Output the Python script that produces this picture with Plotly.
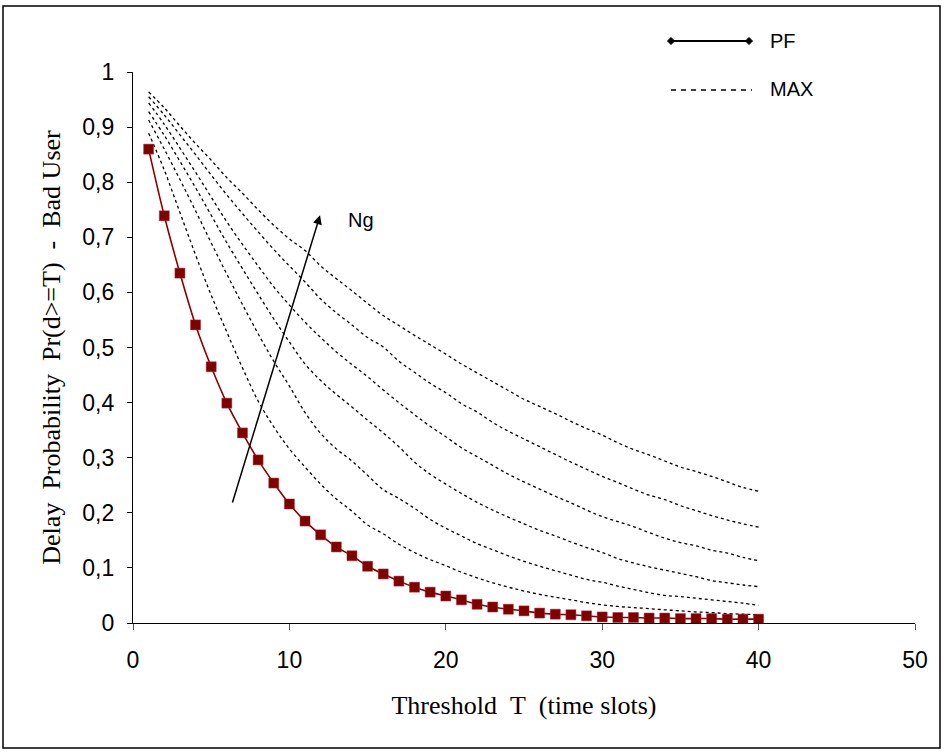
import plotly.graph_objects as go

T = list(range(1, 41))

pf = [0.860, 0.739, 0.635, 0.541, 0.465, 0.399, 0.345, 0.296, 0.254, 0.216,
      0.185, 0.160, 0.138, 0.122, 0.103, 0.089, 0.076, 0.065, 0.056, 0.049,
      0.042, 0.034, 0.029, 0.025, 0.022, 0.018, 0.016, 0.015, 0.013, 0.011,
      0.010, 0.010, 0.009, 0.009, 0.008, 0.008, 0.008, 0.007, 0.007, 0.007]

max1 = [0.964, 0.935, 0.902, 0.870, 0.840, 0.808, 0.780, 0.750, 0.722, 0.697,
        0.676, 0.648, 0.625, 0.603, 0.580, 0.558, 0.540, 0.522, 0.505, 0.488,
        0.470, 0.454, 0.438, 0.422, 0.406, 0.393, 0.380, 0.366, 0.353, 0.341,
        0.327, 0.315, 0.305, 0.294, 0.283, 0.275, 0.266, 0.256, 0.246, 0.239]
max2 = [0.955, 0.922, 0.886, 0.850, 0.813, 0.777, 0.743, 0.710, 0.678, 0.648,
        0.619, 0.588, 0.563, 0.541, 0.518, 0.501, 0.475, 0.455, 0.435, 0.418,
        0.398, 0.383, 0.364, 0.348, 0.334, 0.320, 0.306, 0.292, 0.279, 0.266,
        0.255, 0.243, 0.232, 0.224, 0.213, 0.204, 0.195, 0.187, 0.180, 0.174]
max3 = [0.944, 0.905, 0.862, 0.818, 0.773, 0.728, 0.687, 0.648, 0.610, 0.577,
        0.546, 0.518, 0.492, 0.469, 0.447, 0.423, 0.400, 0.378, 0.357, 0.338,
        0.318, 0.302, 0.286, 0.270, 0.256, 0.243, 0.230, 0.218, 0.205, 0.193,
        0.184, 0.175, 0.164, 0.154, 0.146, 0.140, 0.132, 0.127, 0.119, 0.113]
max4 = [0.928, 0.885, 0.838, 0.790, 0.740, 0.690, 0.643, 0.597, 0.552, 0.510,
        0.470, 0.440, 0.415, 0.392, 0.368, 0.345, 0.320, 0.292, 0.270, 0.252,
        0.235, 0.219, 0.205, 0.192, 0.180, 0.168, 0.158, 0.147, 0.137, 0.128,
        0.117, 0.109, 0.102, 0.096, 0.090, 0.084, 0.077, 0.073, 0.069, 0.066]
max5 = [0.913, 0.860, 0.805, 0.748, 0.690, 0.633, 0.578, 0.525, 0.475, 0.430,
        0.382, 0.344, 0.316, 0.294, 0.268, 0.242, 0.226, 0.208, 0.188, 0.172,
        0.158, 0.144, 0.133, 0.122, 0.112, 0.103, 0.095, 0.087, 0.079, 0.074,
        0.067, 0.061, 0.055, 0.050, 0.048, 0.045, 0.042, 0.039, 0.036, 0.032]
max6 = [0.889, 0.822, 0.745, 0.668, 0.595, 0.528, 0.463, 0.403, 0.356, 0.316,
        0.283, 0.252, 0.225, 0.203, 0.178, 0.162, 0.143, 0.128, 0.115, 0.104,
        0.092, 0.082, 0.073, 0.065, 0.058, 0.052, 0.047, 0.042, 0.037, 0.033,
        0.030, 0.028, 0.026, 0.024, 0.022, 0.020, 0.019, 0.017, 0.016, 0.015]
max_series = [max1, max2, max3, max4, max5, max6]

yticks = [0, 0.1, 0.2, 0.3, 0.4, 0.5, 0.6, 0.7, 0.8, 0.9, 1.0]
yticktext = ["0", "0,1", "0,2", "0,3", "0,4", "0,5", "0,6", "0,7", "0,8", "0,9", "1"]
xticks = [0, 10, 20, 30, 40, 50]

fig = go.Figure()

for s in max_series:
    fig.add_trace(go.Scatter(x=T, y=s, mode="lines", showlegend=False,
                             line=dict(color="black", width=1.3, dash="3px,3px", shape="spline")))

fig.add_trace(go.Scatter(x=T, y=pf, mode="lines+markers", showlegend=False,
                         line=dict(color="#8B0000", width=1.6, shape="spline"),
                         marker=dict(symbol="square", size=10, color="#800000",
                                     line=dict(color="#A0303A", width=0.5))))

# plot area in pixels
L, R, TOP, BOT = 133, 915, 72, 623
W, H = R - L, BOT - TOP

def px(xp):
    return (xp - L) / W

def py(yp):
    return (BOT - yp) / H

shapes = []
# outer frame
shapes.append(dict(type="rect", xref="paper", yref="paper",
                   x0=px(3), x1=px(940), y0=py(748), y1=py(6),
                   line=dict(color="black", width=1.5)))
# legend PF
shapes.append(dict(type="line", xref="paper", yref="paper",
                   x0=px(671), x1=px(749), y0=py(41), y1=py(41),
                   line=dict(color="black", width=2)))
for cx in (671, 749):
    d = 3.5
    path = "M {a},{b} L {c},{e} L {a},{f} L {g},{e} Z".format(
        a=px(cx), b=py(41 - d), c=px(cx + d), e=py(41), f=py(41 + d), g=px(cx - d))
    shapes.append(dict(type="path", xref="paper", yref="paper", path=path,
                       fillcolor="black", line=dict(color="black", width=1)))
# legend MAX
shapes.append(dict(type="line", xref="paper", yref="paper",
                   x0=px(671), x1=px(752), y0=py(90), y1=py(90),
                   line=dict(color="black", width=1.3, dash="5px,5px")))

annotations = [
    dict(xref="paper", yref="paper", x=px(768), y=py(41), text="PF", showarrow=False,
         xanchor="left", yanchor="middle", font=dict(family="Arial, Liberation Sans", size=20, color="black")),
    dict(xref="paper", yref="paper", x=px(768), y=py(89), text="MAX", showarrow=False,
         xanchor="left", yanchor="middle", font=dict(family="Arial, Liberation Sans", size=20, color="black")),
    dict(x=11.96, y=0.740, ax=6.33, ay=0.216, axref="x", ayref="y", xref="x", yref="y",
         text="", showarrow=True, arrowhead=2, arrowsize=1.2, arrowwidth=1.5, arrowcolor="black"),
    dict(xref="paper", yref="paper", x=px(361), y=py(220), text="Ng", showarrow=False,
         xanchor="center", yanchor="middle", font=dict(family="Arial, Liberation Sans", size=20, color="black")),
]

fig.update_layout(
    width=944, height=752,
    margin=dict(l=L, r=944 - R, t=TOP, b=752 - BOT, pad=0),
    paper_bgcolor="white", plot_bgcolor="white",
    shapes=shapes, annotations=annotations,
    xaxis=dict(range=[0, 50], tickvals=xticks, ticks="outside", ticklen=6, tickcolor="#555",
               showline=True, linecolor="black", linewidth=1.2, showgrid=False, zeroline=False,
               ticklabelstandoff=10,
               tickfont=dict(family="Arial, Liberation Sans", size=23, color="black"),
               title=dict(text="Threshold&nbsp;&nbsp;T&nbsp;&nbsp;(time slots)", standoff=24,
                          font=dict(family="Times New Roman, Liberation Serif", size=26, color="black"))),
    yaxis=dict(range=[0, 1], tickvals=yticks, ticktext=yticktext, ticks="outside", ticklen=5,
               tickcolor="black", showline=True, linecolor="black", linewidth=1.2,
               showgrid=False, zeroline=False, ticklabelstandoff=8,
               tickfont=dict(family="Arial, Liberation Sans", size=23, color="black"),
               title=dict(text="Delay&nbsp;&nbsp;Probability&nbsp;&nbsp;Pr(d>=T)&nbsp;&nbsp;-&nbsp;&nbsp;Bad User", standoff=14,
                          font=dict(family="Times New Roman, Liberation Serif", size=26, color="black"))),
)

fig.write_html("out.html")
